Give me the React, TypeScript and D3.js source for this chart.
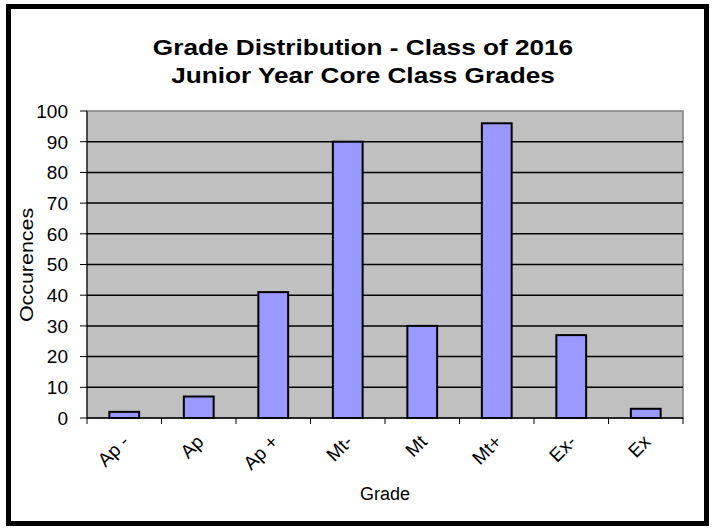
import React from "react";
import * as d3 from "d3";

const categories = ["Ap -", "Ap", "Ap +", "Mt-", "Mt", "Mt+", "Ex-", "Ex"];
const values = [2, 7, 41, 90, 30, 96, 27, 3];
const yTicks = [0, 10, 20, 30, 40, 50, 60, 70, 80, 90, 100];
const titleLines = ["Grade Distribution - Class of 2016", "Junior Year Core Class Grades"];

export default function App() {
  const W = 713, H = 529;
  const left = 87, right = 683, top = 111, bottom = 418;
  const x = d3.scaleBand<string>().domain(categories).range([left, right]).paddingInner(0.6).paddingOuter(0.3);
  const band = d3.scaleBand<string>().domain(categories).range([left, right]);
  const y = d3.scaleLinear().domain([0, 100]).range([bottom, top]);
  const font = "'Liberation Sans', Arial, sans-serif";
  return (
    <svg width={W} height={H} style={{ position: "absolute", left: 0, top: 0 }}>
      <rect x={0} y={0} width={W} height={H} fill="#fff" />
      <rect x={8.5} y={6.5} width={698} height={517} fill="#fff" stroke="#000" strokeWidth={5} />
      {titleLines.map((t, i) => (
        <text key={i} transform={`translate(363 ${55 + i * 28}) scale(1.19 1)`} textAnchor="middle" fontFamily={font} fontWeight="bold" fontSize={22} fill="#000">{t}</text>
      ))}
      <rect x={left} y={top} width={right - left} height={bottom - top} fill="#C0C0C0" stroke="#808080" strokeWidth={1.5} />
      {yTicks.map((t) => (
        <g key={t}>
          {t > 0 && t < 100 && <line x1={left} x2={right} y1={y(t)} y2={y(t)} stroke="#000" strokeWidth={1.5} />}
          <line x1={left - 7} x2={left} y1={y(t)} y2={y(t)} stroke="#000" strokeWidth={1} />
          <text x={68} y={y(t)} dy="0.36em" textAnchor="end" fontFamily={font} fontSize={19} fill="#000">{t}</text>
        </g>
      ))}
      <line x1={left} x2={left} y1={top} y2={bottom + 6} stroke="#000" strokeWidth={1} />
      <line x1={left} x2={right} y1={bottom} y2={bottom} stroke="#000" strokeWidth={1.5} />
      {categories.map((c, i) => (
        <line key={"tk" + i} x1={band(c)! + band.bandwidth()} x2={band(c)! + band.bandwidth()} y1={bottom} y2={bottom + 6} stroke="#000" strokeWidth={1} />
      ))}
      {categories.map((c, i) => (
        <rect key={c} x={x(c)} y={y(values[i])} width={x.bandwidth()} height={bottom - y(values[i])} fill="#9999FF" stroke="#000" strokeWidth={2} />
      ))}
      {categories.map((c) => {
        const cx = band(c)! + band.bandwidth() / 2 + 6;
        const cy = 443;
        return (
          <text key={"l" + c} x={cx} y={cy} textAnchor="end" transform={`rotate(-45 ${cx} ${cy})`} fontFamily={font} fontSize={19} fill="#000">{c}</text>
        );
      })}
      <text x={385} y={500} textAnchor="middle" fontFamily={font} fontSize={18} fill="#000">Grade</text>
      <text transform={`translate(33 ${265}) rotate(-90) scale(1.19 1)`} textAnchor="middle" fontFamily={font} fontSize={18} fill="#000">Occurences</text>
    </svg>
  );
}
